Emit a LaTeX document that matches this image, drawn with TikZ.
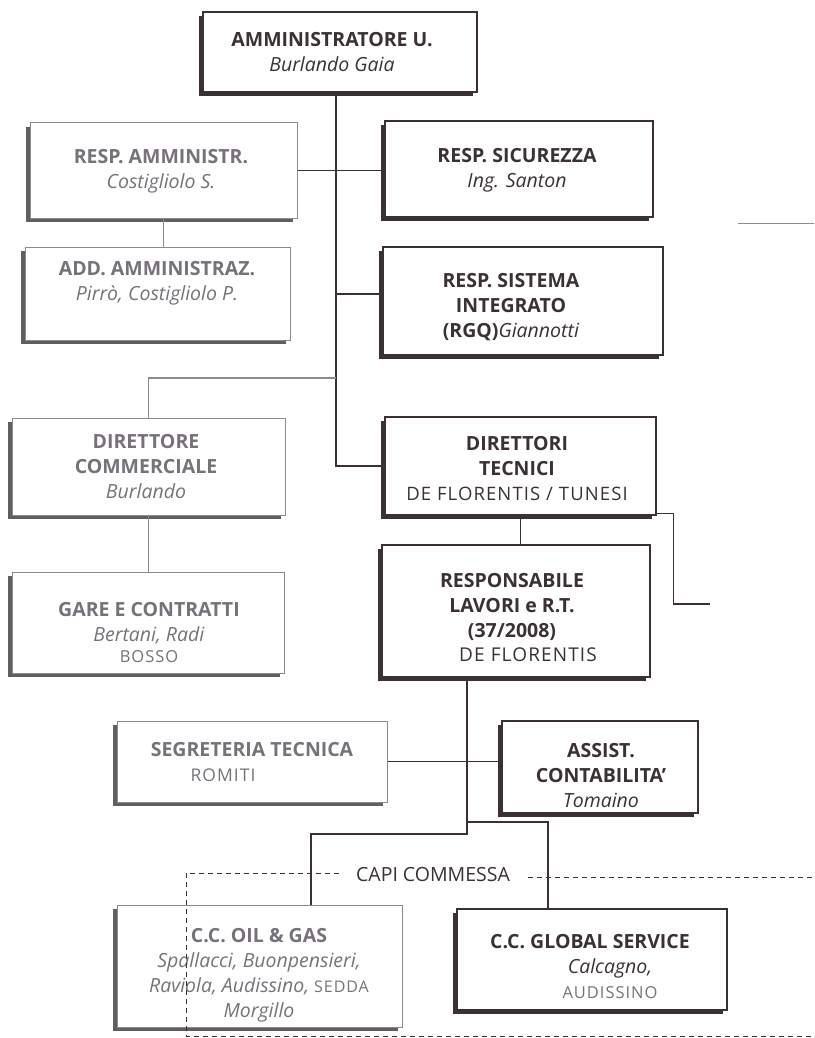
\documentclass[tikz,border=0pt]{standalone}
\usepackage{fontspec}
\setmainfont{Open Sans}
\newfontfamily\handfont[LetterSpace=6.0]{Open Sans}
\usetikzlibrary{fit,shadows}
\definecolor{ink}{HTML}{3B3134}
\definecolor{fade}{HTML}{77727A}
\definecolor{fadeline}{HTML}{8E8A8B}
\definecolor{fadeshadow}{HTML}{625D5F}
\tikzset{
  orgbox/.style={draw=ink, line width=1.2pt, fill=white, inner sep=0pt,
    general shadow={fill=ink, shadow xshift=-4pt, shadow yshift=-4pt}},
  fadebox/.style={draw=fadeline, line width=1pt, fill=white, inner sep=0pt,
    general shadow={fill=fadeshadow, shadow xshift=-4pt, shadow yshift=-4pt}},
  txt/.style={align=center, text=ink, font=\fontsize{19.5}{25}\selectfont, inner sep=0pt},
  fadetxt/.style={txt, text=fade},
  link/.style={draw=ink, line width=1.5pt},
  fadelink/.style={draw=fadeline, line width=1.2pt},
  dashlink/.style={draw=ink, line width=0.9pt, dash pattern=on 5pt off 4pt},
}
\newcommand\hw[2]{{\handfont\fontsize{#1}{24}\selectfont #2}}
\begin{document}
\begin{tikzpicture}[x=1pt,y=-1pt]
\useasboundingbox (0,0) rectangle (814,1038);
\fill[white] (0,0) rectangle (814,1038);

% boxes
\node[orgbox, fit={(203,12) (477,92)}] (amm) {};
\node[fadebox, fit={(30,123) (297,218)}] (respamm) {};
\node[fadebox, fit={(25,247) (290,340)}] (addamm) {};
\node[orgbox, fit={(385,121) (653,217)}] (sic) {};
\node[orgbox, fit={(383,247) (663,355)}] (sgi) {};
\node[fadebox, fit={(12,418) (285,515)}] (dircom) {};
\node[fadebox, fit={(12,572) (284,673)}] (gare) {};
\node[orgbox, fit={(385,417) (656,515)}] (dirtec) {};
\node[orgbox, fit={(382,545) (650,677)}] (resplav) {};
\node[fadebox, fit={(117,721) (387,802)}] (segr) {};
\node[orgbox, fit={(502,721) (698,813)}] (assist) {};
\node[fadebox, fit={(117,905) (402,1027)}] (oil) {};
\node[orgbox, fit={(457,909) (727,1010)}] (glob) {};

% texts
\node[txt] (ammt) at (332,52) {\textbf{AMMINISTRATORE U.}\\ \textit{Burlando Gaia}};
\node[fadetxt] (respammt) at (161,171) {\textbf{RESP. AMMINISTR.}\\ \textit{Costigliolo S.}};
\node[fadetxt] (addammt) at (157,283) {\textbf{ADD. AMMINISTRAZ.}\\ \textit{Pirrò, Costigliolo P.}};
\node[txt] (sict) at (517,170) {\textbf{RESP. SICUREZZA}\\ \textit{Ing. Santon}};
\node[txt] (sgit) at (511,307) {\textbf{RESP. SISTEMA}\\ \textbf{INTEGRATO}\\ \textbf{(RGQ)}\textit{Giannotti}};
\node[fadetxt] (dircomt) at (146,467) {\textbf{DIRETTORE}\\ \textbf{COMMERCIALE}\\ \textit{Burlando}};
\node[fadetxt] (garet) at (149,633) {\textbf{GARE E CONTRATTI}\\ \textit{Bertani, Radi}\\[-4pt] \hw{16.5}{BOSSO}};
\node[txt] (dirtect) at (517,469) {\textbf{DIRETTORI}\\ \textbf{TECNICI}\\ \hw{18.5}{DE FLORENTIS / TUNESI}};
\node[txt] (resplavt) at (512,618) {\textbf{RESPONSABILE}\\ \textbf{LAVORI e R.T.}\\ \textbf{(37/2008)}\\[-1pt] \hspace*{32pt}\hw{19}{DE FLORENTIS}};
\node[fadetxt] (segrt) at (252,762) {\textbf{SEGRETERIA TECNICA}\\ \hw{17.5}{ROMITI}\hspace*{58pt}};
\node[txt] (assistt) at (601,776) {\textbf{ASSIST.}\\ \textbf{CONTABILITA'}\\ \textit{Tomaino}};
\node[fadetxt] (oilt) at (259,975) {\textbf{C.C. OIL \& GAS}\\ \textit{Spallacci, Buonpensieri,}\\ \textit{Raviola, Audissino,} \hw{16}{SEDDA}\\ \textit{Morgillo}};
\node[txt] (globt) at (590,966) {\textbf{C.C. GLOBAL SERVICE}\\ \hspace*{40pt}\textit{Calcagno,}\\ \hspace*{40pt}{\color{fade}\hw{16.5}{AUDISSINO}}};
\node[txt] (capi) at (433,875) {CAPI COMMESSA};

% junction coordinates
\coordinate (j2) at (336,294);
\coordinate (j3) at (336,378);
\coordinate (j4) at (467,822);
\coordinate (j5) at (467,834);
\coordinate (oilx) at (311,0);
\coordinate (globx) at (548,0);
\coordinate (dtr) at (710,604);
\coordinate (stray1) at (738,223);
\coordinate (stray2) at (814,223);
\coordinate (dr1) at (814,877);
\coordinate (dl1) at (186,873);
\coordinate (dl2) at (186,1036);
\coordinate (dl3) at (814,1036);

% connectors
\draw[link] ([xshift=-4pt]amm.south) |- (dirtec.west);
\draw[link] (respamm.east) -- (respamm.east -| sic.west);
\draw[fadelink] (respamm.south) -- (respamm.south |- addamm.north);
\draw[link] (j2) -- (j2 -| sgi.west);
\draw[fadelink] (j3) -| (dircom.north);
\draw[fadelink] (dircom.south) -- (dircom.south |- gare.north);
\draw[link] (dirtec.south) -- (dirtec.south |- resplav.north);
\draw[link] ([yshift=2pt]dirtec.south east) -- ++(17,0) |- (dtr);
\draw[fadeline, line width=0.8pt] (stray1) -- (stray2);
\draw[link] (resplav.south -| j5) -- (j5) -| (oilx |- oil.north);
\draw[link] (j4) -| (globx |- glob.north);
\draw[link] (segr.east) -- (segr.east -| assist.west);

% dashed grouping
\draw[dashlink] ([xshift=18pt]capi.east |- dr1) -- (dr1);
\draw[dashlink] ([xshift=-17pt]capi.west |- dl1) -- (dl1) -- (dl2) -- (dl3);
\end{tikzpicture}
\end{document}
